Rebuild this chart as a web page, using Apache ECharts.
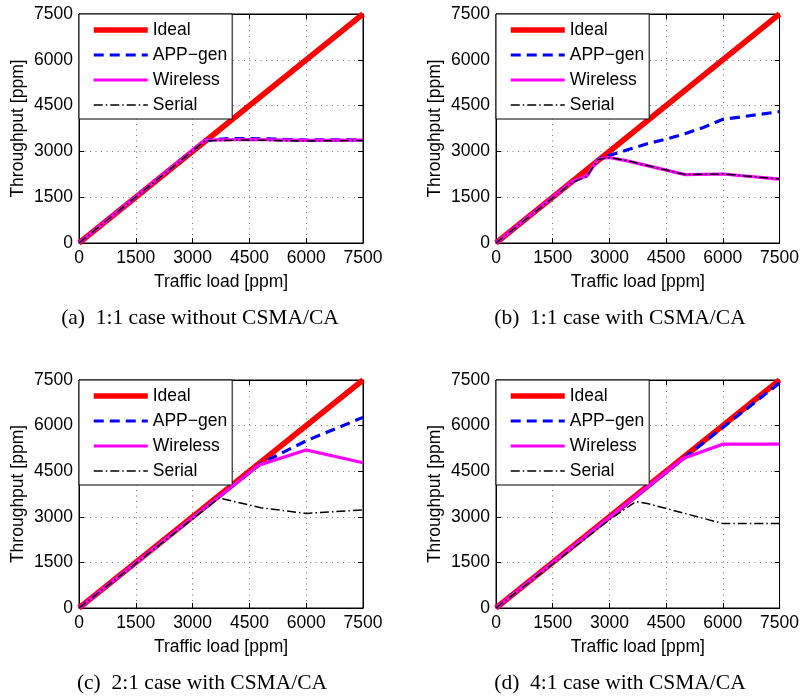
<!DOCTYPE html>
<html>
<head>
<meta charset="utf-8">
<script src="https://cdn.jsdelivr.net/npm/echarts@6/dist/echarts.min.js"></script>
<style>
html,body{margin:0;padding:0;background:#fff;}
#chart{width:802px;height:698px;}
</style>
</head>
<body>
<div id="chart"></div>
<script>
// ---- Data ----
const tickValues = [0, 1500, 3000, 4500, 6000, 7500];
const seriesNames = ['Ideal', 'APP\u2212gen', 'Wireless', 'Serial'];
const captions = ['(a)  1:1 case without CSMA/CA', '(b)  1:1 case with CSMA/CA', '(c)  2:1 case with CSMA/CA', '(d)  4:1 case with CSMA/CA'];

// Ideal (same in every panel)
const idealX = [0, 7500];
const idealY = [0, 7500];

// Panel (a)
const aAppX = [0, 3330, 4000, 4500, 5000, 5500, 6000, 6500, 7500];
const aAppY = [0, 3360, 3420, 3420, 3410, 3390, 3370, 3380, 3380];
const aWirX = [0, 3330, 4500, 6000, 7500];
const aWirY = [0, 3370, 3390, 3360, 3370];
const aSerX = [0, 3330, 4500, 6000, 7500];
const aSerY = [0, 3350, 3370, 3340, 3360];

// Panel (b)
const bAppX = [0, 2000, 2400, 2700, 3000, 3500, 4000, 4500, 5000, 5500, 6000, 7500];
const bAppY = [0, 2000, 2200, 2750, 2870, 3060, 3250, 3400, 3580, 3790, 4050, 4300];
const bWirX = [0, 2000, 2400, 2700, 3000, 3500, 5000, 6000, 7500];
const bWirY = [0, 2000, 2200, 2750, 2800, 2680, 2240, 2260, 2090];
const bSerX = [0, 2000, 2400, 2700, 3000, 3500, 5000, 6000, 7500];
const bSerY = [0, 1970, 2180, 2740, 2800, 2690, 2240, 2260, 2100];

// Panel (c)
const cAppX = [0, 4800, 6000, 7500];
const cAppY = [0, 4750, 5500, 6270];
const cWirX = [0, 4750, 6000, 7500];
const cWirY = [0, 4700, 5200, 4780];
const cSerX = [0, 3700, 4800, 6000, 7500];
const cSerY = [0, 3620, 3300, 3110, 3230];

// Panel (d)
const dAppX = [0, 5000, 6000, 7500];
const dAppY = [0, 4960, 5940, 7400];
const dWirX = [0, 4950, 6000, 7500];
const dWirY = [0, 4920, 5390, 5390];
const dSerX = [0, 3000, 3700, 4000, 6000, 7500];
const dSerY = [0, 2900, 3500, 3440, 2780, 2780];

const panels = [
  {app: [aAppX, aAppY], wir: [aWirX, aWirY], ser: [aSerX, aSerY]},
  {app: [bAppX, bAppY], wir: [bWirX, bWirY], ser: [bSerX, bSerY]},
  {app: [cAppX, cAppY], wir: [cWirX, cWirY], ser: [cSerX, cSerY]},
  {app: [dAppX, dAppY], wir: [dWirX, dWirY], ser: [dSerX, dSerY]}
];

// ---- Layout / style ----
const gridPos = [
  {left: 79, top: 14, width: 284, height: 229},
  {left: 496, top: 14, width: 284, height: 229},
  {left: 79, top: 380, width: 284, height: 228},
  {left: 496, top: 380, width: 284, height: 228}
];
const captionPos = [[200, 318], [620, 318], [202, 683], [620, 683]];

const styles = {
  'Ideal': {color: '#ff0000', width: 5.5, type: 'solid'},
  'APP\u2212gen': {color: '#0000ff', width: 3.2, type: [10, 6]},
  'Wireless': {color: '#ff00ff', width: 3.2, type: 'solid'},
  'Serial': {color: '#000000', width: 1.5, type: [9, 3, 1.5, 3]}
};

const SANS = '"Liberation Sans", Arial, Helvetica, sans-serif';
const SERIF = '"Liberation Serif", "Times New Roman", serif';

function zip(xs, ys) { return xs.map((x, i) => [x, ys[i]]); }

const grids = [], xAxes = [], yAxes = [], series = [], legends = [], graphics = [];

gridPos.forEach((g, i) => {
  grids.push(Object.assign({show: true, borderColor: '#000', borderWidth: 1, backgroundColor: '#fff'}, g));
  const common = {
    type: 'value', gridIndex: i, min: tickValues[0], max: tickValues[tickValues.length - 1],
    interval: tickValues[1] - tickValues[0],
    axisLine: {show: true, onZero: false, lineStyle: {color: '#000', width: 1}},
    axisTick: {show: true, inside: true, length: 5, lineStyle: {color: '#000'}}
  };
  const lbl = {color: '#000', fontSize: 17.5, fontFamily: SANS, margin: 6, formatter: v => String(v)};
  xAxes.push(Object.assign({}, common, {
    position: 'bottom',
    axisLabel: lbl,
    splitLine: {show: true, lineStyle: {color: '#777', width: 1, type: [1, 4.5]}},
    name: 'Traffic load [ppm]', nameLocation: 'middle', nameGap: 30,
    nameTextStyle: {color: '#000', fontSize: 17.5, fontFamily: SANS}
  }));
  xAxes.push(Object.assign({}, common, {
    position: 'top', axisLabel: {show: false}, splitLine: {show: false}
  }));
  yAxes.push(Object.assign({}, common, {
    position: 'left',
    axisLabel: lbl,
    splitLine: {show: true, lineStyle: {color: '#777', width: 1, type: [1, 4.5]}},
    name: 'Throughput [ppm]', nameLocation: 'middle', nameGap: 52,
    nameTextStyle: {color: '#000', fontSize: 17.5, fontFamily: SANS}
  }));
  yAxes.push(Object.assign({}, common, {
    position: 'right', axisLabel: {show: false}, splitLine: {show: false}
  }));

  const p = panels[i];
  const data = {
    'Ideal': zip(idealX, idealY),
    'APP\u2212gen': zip(p.app[0], p.app[1]),
    'Wireless': zip(p.wir[0], p.wir[1]),
    'Serial': zip(p.ser[0], p.ser[1])
  };
  seriesNames.forEach((name, k) => {
    const s = styles[name];
    series.push({
      type: 'line', name: name, xAxisIndex: 2 * i, yAxisIndex: 2 * i,
      data: data[name], symbol: 'none', showSymbol: false, z: 2 + k,
      lineStyle: {color: s.color, width: s.width, type: s.type, cap: 'butt', join: 'miter'},
      itemStyle: {color: s.color},
      emphasis: {disabled: true}
    });
  });

  legends.push({
    orient: 'vertical', left: g.left, top: g.top,
    padding: [7, 5, 5, 12], itemGap: 7, itemWidth: 54, itemHeight: 14,
    backgroundColor: '#fff', borderColor: '#000', borderWidth: 1,
    textStyle: {color: '#000', fontSize: 17.5, fontFamily: SANS, lineHeight: 17},
    selectedMode: false,
    data: seriesNames.map(n => ({
      name: n,
      itemStyle: {color: 'rgba(0,0,0,0)', borderWidth: 0, opacity: 0},
      lineStyle: {color: styles[n].color, width: styles[n].width, type: styles[n].type, cap: 'butt', opacity: 1}
    }))
  });

  graphics.push({
    type: 'text', x: captionPos[i][0], y: captionPos[i][1],
    style: {text: captions[i], font: '21.5px ' + SERIF, fill: '#000', textAlign: 'center', textVerticalAlign: 'middle'}
  });
});

const chart = echarts.init(document.getElementById('chart'), null, {renderer: 'canvas'});
chart.setOption({
  animation: false,
  backgroundColor: '#fff',
  grid: grids, xAxis: xAxes, yAxis: yAxes, series: series, legend: legends, graphic: graphics
});
</script>
</body>
</html>
